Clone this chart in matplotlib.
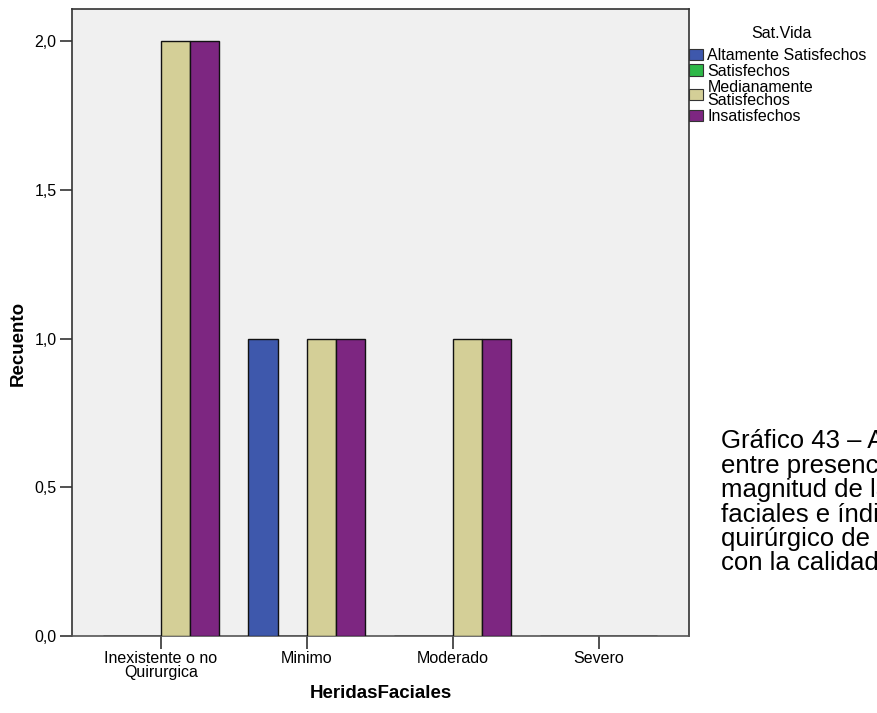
import numpy as np
import matplotlib.pyplot as plt
from matplotlib.patches import Patch

plt.rcParams['font.family'] = ['Liberation Sans', 'DejaVu Sans']

# data
categories = ["Inexistente o no\nQuirurgica", "Minimo", "Moderado", "Severo"]
series = ["Altamente Satisfechos", "Satisfechos", "Medianamente\nSatisfechos", "Insatisfechos"]
altamente = [0, 1, 0, 0]
satisfechos = [0, 0, 0, 0]
medianamente = [2, 1, 1, 0]
insatisfechos = [2, 1, 1, 0]
colors = ["#3e58ac", "#2eb848", "#d4cf97", "#7d2681"]
y_ticks = [0.0, 0.5, 1.0, 1.5, 2.0]
y_labels = ["0,0", "0,5", "1,0", "1,5", "2,0"]

caption = ["Gráfico 43 – Asociación", "entre presencia y", "magnitud de las heridas",
           "faciales e índice", "quirúrgico de trauma", "con la calidad de vida"]

fig = plt.figure(figsize=(8.78, 7.13), dpi=100)
ax = fig.add_axes([72 / 878, 1 - 636 / 713, 617 / 878, 627 / 713])
ax.set_facecolor("#f0f0f0")

x = np.arange(len(categories))
w = 0.2
values = [altamente, satisfechos, medianamente, insatisfechos]
for i, (vals, c) in enumerate(zip(values, colors)):
    ax.bar(x + (i - 1.5) * w, vals, w, color=c, edgecolor="#111111", linewidth=1.0, zorder=3)

ax.set_xlim(-0.61, 3.62)
ax.set_ylim(0, 2.108)
ax.set_yticks(y_ticks)
ax.set_yticklabels(y_labels, fontsize=11.5)
ax.set_xticks(x)
ax.set_xticklabels(categories, fontsize=11.5, linespacing=0.9)
ax.tick_params(axis="both", direction="out", length=9, width=1.2, color="#333333")
ax.tick_params(axis="y", pad=2)
ax.tick_params(axis="x", pad=2)
for s in ax.spines.values():
    s.set_linewidth(1.2)
    s.set_color("#333333")
ax.spines["bottom"].set_color("#555555")

ax.set_ylabel("Recuento", fontsize=13.5, fontweight="bold", va="center")
ax.yaxis.set_label_coords((18 - 72) / 617, (636 - 343) / 627)
ax.set_xlabel("HeridasFaciales", fontsize=13.5, fontweight="bold", va="center")
ax.xaxis.set_label_coords(0.5, -(693 - 636) / 627)

# legend title drawn on its own so the rows can sit tight
fig.text(781 / 878, 1 - 33 / 713, "Sat.Vida", fontsize=11.5, ha="center", va="center")
handles = [Patch(facecolor=c, edgecolor="#333333", linewidth=0.8) for c in colors]
leg = fig.legend(handles, series, loc="upper left", bbox_to_anchor=(689 / 878, 1 - 48 / 713),
                 fontsize=11.5, frameon=False,
                 handlelength=0.9, handleheight=0.75, handletextpad=0.25, labelspacing=0.05,
                 borderpad=0, borderaxespad=0)
for t in leg.get_texts():
    t.set_linespacing(0.9)

for k, line in enumerate(caption):
    fig.text(721 / 878, 1 - (448 + k * 24.5) / 713, line, fontsize=18.5, ha="left", va="baseline")

fig.savefig("out.png", dpi=100)
